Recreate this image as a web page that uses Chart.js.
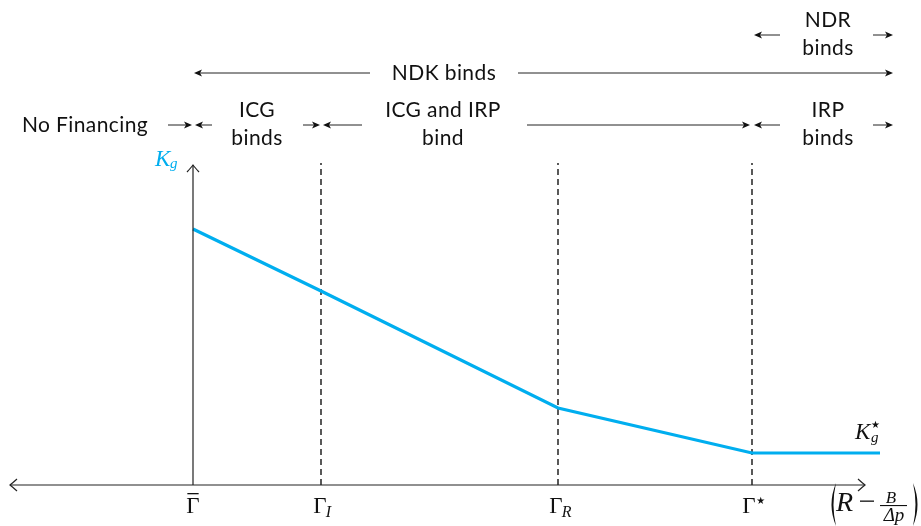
<!DOCTYPE html>
<html>
<head>
<meta charset="utf-8">
<script src="https://cdn.jsdelivr.net/npm/chart.js@4.4.1/dist/chart.umd.min.js"></script>
<style>
  html, body { margin: 0; padding: 0; background: #ffffff; }
  #wrap { width: 921px; height: 526px; position: relative; }
</style>
</head>
<body>
<div id="wrap"><canvas id="c"></canvas></div>
<script>
// ---- data (x in abstract units of (R - B/Δp), y = K_g) ----
const thresholdNames = ['bar', 'I', 'R', 'star'];      // Γ̄, Γ_I, Γ_R, Γ*
const thresholdX = [0, 1.28, 3.65, 5.59];
const kgX = [0, 1.28, 3.65, 5.59, 6.87];
const kgY = [2.56, 1.94, 0.77, 0.32, 0.32];
const dashTop = 3.22;

const CYAN = '#00AEEF';
const INK = '#111111';

const datasets = [{
  label: 'K_g',
  data: kgX.map((x, i) => ({ x: x, y: kgY[i] })),
  borderColor: CYAN,
  borderWidth: 3.2,
  pointRadius: 0,
  tension: 0,
  order: 0
}];
thresholdX.slice(1).forEach((x) => {
  datasets.push({
    label: 'dash',
    data: [{ x: x, y: 0 }, { x: x, y: dashTop }],
    borderColor: '#000',
    borderWidth: 1.3,
    borderDash: [6, 4],
    pointRadius: 0,
    order: 1
  });
});

function arrowHead(ctx, x, y, dir) {
  ctx.beginPath();
  ctx.moveTo(x, y);
  ctx.lineTo(x - dir * 8, y - 3.6);
  ctx.lineTo(x - dir * 6, y);
  ctx.lineTo(x - dir * 8, y + 3.6);
  ctx.closePath();
  ctx.fill();
}
function hArrow(ctx, x0, x1, y) {
  const dir = x1 > x0 ? 1 : -1;
  ctx.beginPath();
  ctx.moveTo(x0, y);
  ctx.lineTo(x1 - dir * 5, y);
  ctx.stroke();
  arrowHead(ctx, x1, y, dir);
}
function chevron(ctx, x, y, dx, dy) {
  const px = -dy, py = dx;
  ctx.beginPath();
  ctx.moveTo(x - dx * 7 + px * 6, y - dy * 7 + py * 6);
  ctx.quadraticCurveTo(x - dx * 2 + px * 1.5, y - dy * 2 + py * 1.5, x, y);
  ctx.quadraticCurveTo(x - dx * 2 - px * 1.5, y - dy * 2 - py * 1.5, x - dx * 7 - px * 6, y - dy * 7 - py * 6);
  ctx.stroke();
}
function paren(ctx, xEnd, yTop, yBot, bulge, thick) {
  const ym = (yTop + yBot) / 2;
  ctx.beginPath();
  ctx.moveTo(xEnd, yTop);
  ctx.quadraticCurveTo(xEnd + bulge * 2, ym, xEnd, yBot);
  ctx.quadraticCurveTo(xEnd + bulge * 2 - Math.sign(bulge) * thick * 2, ym, xEnd, yTop);
  ctx.closePath();
  ctx.fill();
}

const annotations = {
  id: 'annotations',
  afterDatasetsDraw(chart) {
    const ctx = chart.ctx;
    const sx = chart.scales.x, sy = chart.scales.y;
    const X = v => sx.getPixelForValue(v);
    const Y = v => sy.getPixelForValue(v);
    ctx.save();

    // axes
    ctx.strokeStyle = '#222';
    ctx.lineWidth = 1.2;
    const y0 = Y(0), x0 = X(0);
    ctx.beginPath();
    ctx.moveTo(X(-1.83), y0); ctx.lineTo(X(6.72), y0);
    ctx.moveTo(x0, y0); ctx.lineTo(x0, Y(3.2));
    ctx.stroke();
    chevron(ctx, X(-1.83), y0, -1, 0);
    chevron(ctx, X(6.72), y0, 1, 0);
    chevron(ctx, x0, Y(3.2), 0, -1);

    // tick labels
    ctx.fillStyle = INK;
    ctx.textBaseline = 'alphabetic';
    const base = y0 + 28;
    thresholdX.forEach((tx, i) => {
      const cx = X(tx);
      const name = thresholdNames[i];
      ctx.font = '23px "Liberation Serif"';
      const gw = ctx.measureText('Γ').width;
      if (name === 'bar') {
        ctx.textAlign = 'left';
        ctx.fillText('Γ', cx - gw / 2, base);
        ctx.fillRect(cx - gw / 2 + 1, base - 20, gw - 2, 1.3);
      } else if (name === 'I' || name === 'R') {
        const left = cx - gw / 2 - (name === 'R' ? 2 : 1);
        ctx.textAlign = 'left';
        ctx.fillText('Γ', left, base);
        ctx.font = 'italic 16px "Liberation Serif"';
        ctx.fillText(name, left + gw - 1, base + 4);
      } else {
        ctx.textAlign = 'left';
        const left = cx - gw / 2 - 3;
        ctx.fillText('Γ', left, base);
        ctx.font = '10px "DejaVu Sans"';
        ctx.fillText('★', left + gw + 0.5, base - 9);
      }
    });

    // x-axis label (R - B/Δp)
    paren(ctx, 836, 483, 526, -4.5, 2);
    paren(ctx, 913, 483, 526, 4.5, 2);
    ctx.textAlign = 'left';
    ctx.font = 'italic 28px "Liberation Serif"';
    ctx.fillText('R', 836, 511);
    ctx.fillRect(860, 500.5, 14, 1.3);
    ctx.font = 'italic 17px "Liberation Serif"';
    ctx.textAlign = 'center';
    ctx.fillText('B', 891, 503);
    ctx.fillRect(880, 505, 27, 1.1);
    ctx.font = 'italic 19px "Liberation Serif"';
    ctx.fillText('Δp', 894, 521);

    // K_g labels
    ctx.textAlign = 'left';
    ctx.fillStyle = CYAN;
    ctx.font = 'italic 23px "Liberation Serif"';
    ctx.fillText('K', 155, 166);
    ctx.font = 'italic 15px "Liberation Serif"';
    ctx.fillText('g', 170, 168);
    ctx.fillStyle = INK;
    ctx.font = 'italic 23px "Liberation Serif"';
    ctx.fillText('K', 855, 439);
    ctx.font = 'italic 15px "Liberation Serif"';
    ctx.fillText('g', 871, 442);
    ctx.font = '10px "DejaVu Sans"';
    ctx.fillText('★', 871, 428);

    // region annotations
    ctx.strokeStyle = '#222';
    ctx.fillStyle = '#111';
    ctx.lineWidth = 1;
    const rows = { r0: 4.50, r1: 4.12, r2: 3.60 };
    const arrows = [
      ['r2', -0.25, -0.01], ['r2', 0.19, 0.02],
      ['r2', 1.10, 1.27], ['r2', 1.69, 1.30],
      ['r2', 3.34, 5.57], ['r2', 5.87, 5.61],
      ['r2', 6.80, 7.00],
      ['r1', 1.77, 0.01], ['r1', 3.25, 7.00],
      ['r0', 5.87, 5.61], ['r0', 6.80, 7.00]
    ];
    arrows.forEach(([r, a, b]) => hArrow(ctx, X(a), X(b), Y(rows[r])));

    const texts = [
      ['r2', -1.08, ['No Financing']],
      ['r2', 0.64, ['ICG', 'binds']],
      ['r2', 2.50, ['ICG and IRP', 'bind']],
      ['r2', 6.35, ['IRP', 'binds']],
      ['r1', 2.51, ['NDK binds']],
      ['r0', 6.35, ['NDR', 'binds']]
    ];
    ctx.font = '21px Lato';
    if ('letterSpacing' in ctx) ctx.letterSpacing = '0.4px';
    ctx.textAlign = 'center';
    texts.forEach(([r, x, lines]) => {
      const ry = Y(rows[r]);
      if (lines.length === 1) {
        ctx.fillText(lines[0], X(x), ry + 7);
      } else {
        ctx.fillText(lines[0], X(x), ry - 8);
        ctx.fillText(lines[1], X(x), ry + 20);
      }
    });
    ctx.restore();
  }
};

new Chart(document.getElementById('c'), {
  type: 'line',
  data: { datasets: datasets },
  options: {
    responsive: true,
    maintainAspectRatio: false,
    animation: false,
    layout: { padding: 0 },
    plugins: { legend: { display: false }, tooltip: { enabled: false } },
    scales: {
      x: { type: 'linear', min: -1.93, max: 7.28, display: false },
      y: { type: 'linear', min: -0.41, max: 4.85, display: false }
    }
  },
  plugins: [annotations]
});
</script>
</body>
</html>
